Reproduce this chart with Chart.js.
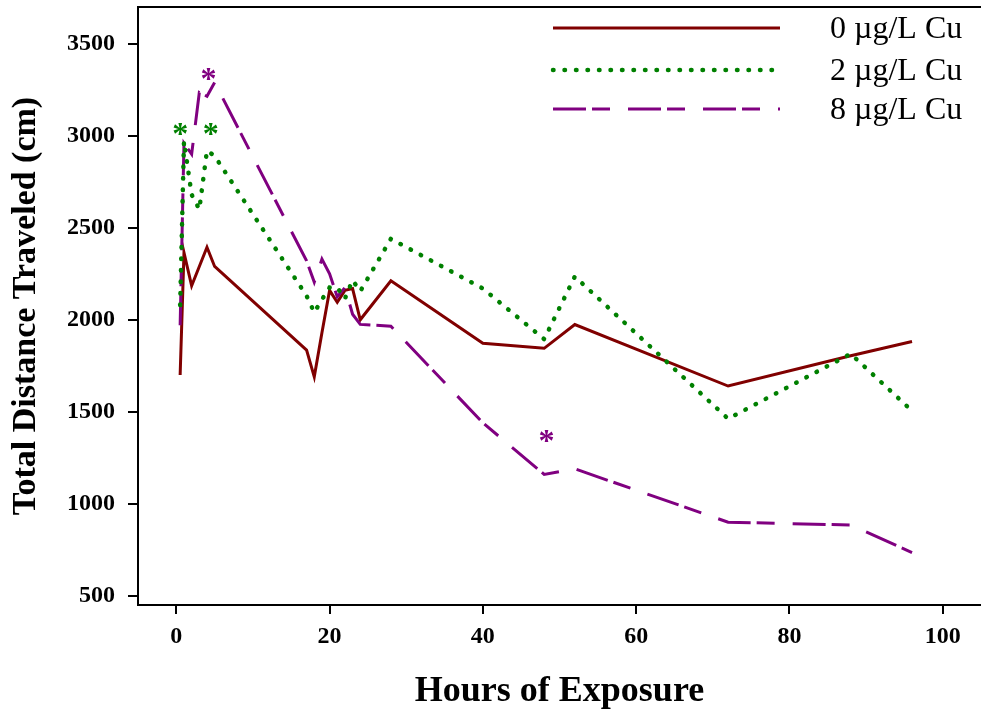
<!DOCTYPE html>
<html>
<head>
<meta charset="utf-8">
<script src="https://cdn.jsdelivr.net/npm/chart.js@4.4.0/dist/chart.umd.min.js"></script>
<style>
    body { margin: 0; background: #fff; }
    #wrap { width: 981px; height: 721px; }
</style>
</head>
<body>
<div id="wrap"><canvas id="myChart"></canvas></div>
<script>
// hours of exposure, shared by all three groups
const hours = [0.5, 1, 2, 3, 4, 5, 17, 18, 19, 20, 21, 22, 23, 24, 28, 40, 48, 52, 72, 88, 96];

// total distance traveled (cm)
const cu0 = [1700, 2365, 2185, 2290, 2394, 2290, 1835, 1690, 1930, 2160, 2095, 2160, 2170, 2000, 2212, 1873, 1845, 1974, 1640, 1805, 1882];
const cu2 = [2080, 2970, 2680, 2600, 2920, 2890, 2130, 2040, 2110, 2175, 2175, 2115, 2215, 2155, 2440, 2170, 1895, 2235, 1462, 1815, 1505];
const cu8 = [1970, 2960, 2900, 3235, 3215, 3290, 2320, 2205, 2330, 2250, 2125, 2175, 2030, 1975, 1965, 1440, 1160, 1190, 900, 885, 735];

const seriesLabels = ['0 \u00B5g/L Cu', '2 \u00B5g/L Cu', '8 \u00B5g/L Cu'];

// asterisks (significant differences)
const star2Hours = [0.5, 4.5];
const star2Values = [3030, 3030];
const star8Hours = [4.2, 48.3];
const star8Values = [3330, 1365];

const xTicks = [0, 20, 40, 60, 80, 100];
const yTicks = [500, 1000, 1500, 2000, 2500, 3000, 3500];

const serif = 'Liberation Serif';

function points(values) {
    return hours.map((h, i) => ({ x: h, y: values[i] }));
}

const starPlugin = {
    id: 'stars',
    afterDatasetsDraw(chart) {
        const { ctx, scales } = chart;
        const marks = [
            [star2Hours, star2Values, '#008000'],
            [star8Hours, star8Values, '#800080']
        ];
        ctx.save();
        ctx.font = `bold 32px "${serif}"`;
        ctx.textAlign = 'center';
        ctx.textBaseline = 'alphabetic';
        for (const [hs, vs, color] of marks) {
            ctx.fillStyle = color;
            hs.forEach((h, i) => {
                ctx.fillText('*', scales.x.getPixelForValue(h), scales.y.getPixelForValue(vs[i]) + 14);
            });
        }
        ctx.restore();
    }
};

// legend with long line samples, top right
const legendPlugin = {
    id: 'lineLegend',
    afterDraw(chart) {
        const ctx = chart.ctx;
        const rows = [28, 70, 109];
        ctx.save();
        chart.data.datasets.forEach((ds, i) => {
            const y = rows[i];
            ctx.beginPath();
            ctx.strokeStyle = ds.borderColor;
            ctx.lineWidth = ds.borderWidth;
            ctx.lineCap = ds.borderCapStyle || 'butt';
            ctx.setLineDash(ds.borderDash || []);
            ctx.moveTo(553, y);
            ctx.lineTo(780, y);
            ctx.stroke();
            ctx.setLineDash([]);
            ctx.fillStyle = '#000';
            ctx.font = `32px "${serif}"`;
            ctx.textAlign = 'left';
            ctx.textBaseline = 'alphabetic';
            ctx.fillText(ds.label, 830, y + 10);
        });
        ctx.restore();
    }
};

function noPadding(axis) {
    axis.paddingTop = 0;
    axis.paddingBottom = 0;
}

const ctx = document.getElementById('myChart');

new Chart(ctx, {
    type: 'line',
    data: {
        datasets: [{
            label: seriesLabels[0],
            data: points(cu0),
            borderColor: '#800000',
            borderWidth: 3,
            pointRadius: 0,
            order: 2
        }, {
            label: seriesLabels[1],
            data: points(cu2),
            borderColor: '#008000',
            borderWidth: 4.5,
            borderDash: [0.5, 11],
            borderCapStyle: 'round',
            pointRadius: 0,
            order: 0
        }, {
            label: seriesLabels[2],
            data: points(cu8),
            borderColor: '#800080',
            borderWidth: 3,
            borderDash: [33, 6, 18, 18],
            pointRadius: 0,
            order: 1
        }]
    },
    options: {
        responsive: true,
        maintainAspectRatio: false,
        animation: false,
        layout: { padding: { top: 7, right: 0, bottom: 0, left: 0 } },
        plugins: {
            legend: { display: false },
            tooltip: { enabled: false }
        },
        scales: {
            x: {
                type: 'linear',
                min: -5,
                max: 105,
                afterBuildTicks: (axis) => { axis.ticks = xTicks.map(v => ({ value: v })); },
                afterFit: (axis) => { axis.height = 116; },
                border: { display: true, color: '#000', width: 2 },
                grid: { display: true, drawOnChartArea: false, drawTicks: true, tickLength: 9, color: '#000', lineWidth: 2 },
                ticks: {
                    color: '#000',
                    padding: 8,
                    maxRotation: 0,
                    callback: (v) => String(v),
                    font: { family: serif, size: 24, weight: 'bold' }
                },
                title: {
                    display: true,
                    text: 'Hours of Exposure',
                    color: '#000',
                    font: { family: serif, size: 36, weight: 'bold' },
                    padding: { top: 0, bottom: 8 }
                }
            },
            x2: {
                type: 'linear',
                position: 'top',
                min: -5,
                max: 105,
                afterFit: (axis) => { axis.height = 0; },
                border: { display: true, color: '#000', width: 2 },
                grid: { display: false },
                ticks: { display: false }
            },
            y: {
                min: 450,
                max: 3700,
                afterBuildTicks: (axis) => { axis.ticks = yTicks.map(v => ({ value: v })); },
                afterFit: (axis) => { axis.width = 138; noPadding(axis); },
                border: { display: true, color: '#000', width: 2 },
                grid: { display: true, drawOnChartArea: false, drawTicks: true, tickLength: 10, color: '#000', lineWidth: 2 },
                ticks: {
                    color: '#000',
                    padding: 13,
                    callback: (v) => String(v),
                    font: { family: serif, size: 24, weight: 'bold' }
                },
                title: {
                    display: true,
                    text: 'Total Distance Traveled (cm)',
                    color: '#000',
                    font: { family: serif, size: 34, weight: 'bold' },
                    padding: { top: 6, bottom: 0 }
                }
            }
        }
    },
    plugins: [starPlugin, legendPlugin]
});
</script>
</body>
</html>
